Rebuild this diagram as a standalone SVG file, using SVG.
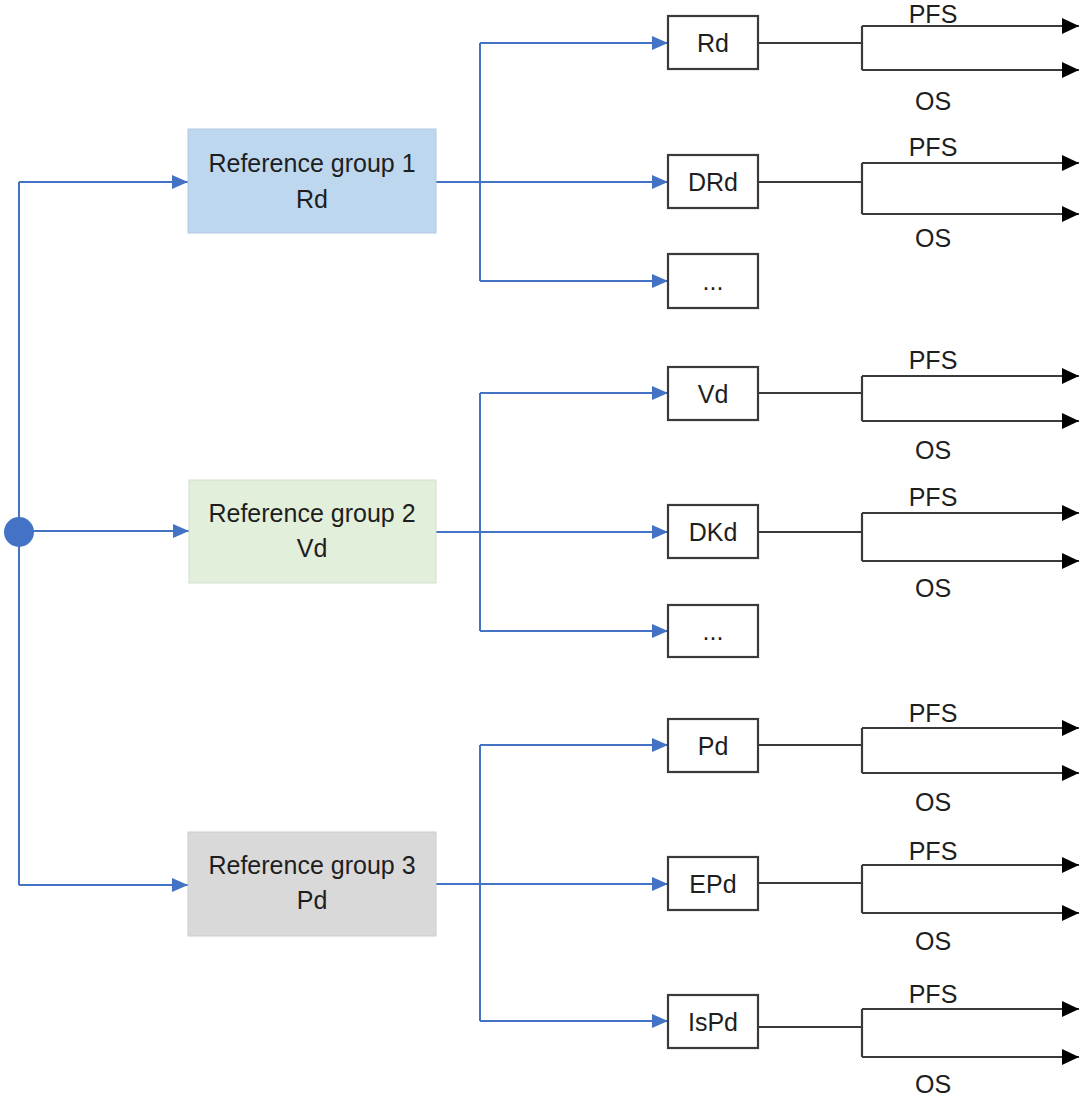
<svg xmlns="http://www.w3.org/2000/svg" width="1083" height="1100" viewBox="0 0 1083 1100">
<style>
text{font-family:"Liberation Sans",Arial,sans-serif;font-size:25px;fill:#1e1e1e;text-anchor:middle}
.b{fill:none;stroke:#4472C4;stroke-width:2}
.k{fill:none;stroke:#3a3a3a;stroke-width:2.2}
.sb{fill:#fff;stroke:#3a3a3a;stroke-width:2.2}
.g1{fill:#BDD7EE;stroke:#B4C9E0;stroke-width:1}
.g2{fill:#E2EFDA;stroke:#D3E0CC;stroke-width:1}
.g3{fill:#D9D9D9;stroke:#CCCCCC;stroke-width:1}
</style>
<defs>
<marker id="ab" markerUnits="userSpaceOnUse" markerWidth="16" markerHeight="14" refX="16" refY="7" orient="auto"><path d="M0,0 L16,7 L0,14 z" fill="#4472C4"/></marker>
<marker id="ak" markerUnits="userSpaceOnUse" markerWidth="17" markerHeight="16" refX="17" refY="8" orient="auto"><path d="M0,0 L17,8 L0,16 z" fill="#000"/></marker>
</defs>
<rect width="1083" height="1100" fill="#fff"/>
<g id="connectors">
<path class="b" d="M19,182 V885"/>
<path class="b" d="M19,182 H188" marker-end="url(#ab)"/>
<path class="b" d="M19,531 H189" marker-end="url(#ab)"/>
<path class="b" d="M19,885 H188" marker-end="url(#ab)"/>
<path class="b" d="M436,182 H668" marker-end="url(#ab)"/>
<path class="b" d="M480,43 V281"/>
<path class="b" d="M480,43 H668" marker-end="url(#ab)"/>
<path class="b" d="M480,281 H668" marker-end="url(#ab)"/>
<path class="b" d="M436,532 H668" marker-end="url(#ab)"/>
<path class="b" d="M480,393 V631"/>
<path class="b" d="M480,393 H668" marker-end="url(#ab)"/>
<path class="b" d="M480,631 H668" marker-end="url(#ab)"/>
<path class="b" d="M436,884 H668" marker-end="url(#ab)"/>
<path class="b" d="M480,745 V1021"/>
<path class="b" d="M480,745 H668" marker-end="url(#ab)"/>
<path class="b" d="M480,1021 H668" marker-end="url(#ab)"/>
<g id="outcomes">
<path class="k" d="M758,43 H862 M862,26 V70"/>
<path class="k" d="M862,26 H1079" marker-end="url(#ak)"/>
<path class="k" d="M862,70 H1079" marker-end="url(#ak)"/>
<path class="k" d="M758,182 H862 M862,163 V214"/>
<path class="k" d="M862,163 H1079" marker-end="url(#ak)"/>
<path class="k" d="M862,214 H1079" marker-end="url(#ak)"/>
<path class="k" d="M758,393 H862 M862,376 V421"/>
<path class="k" d="M862,376 H1079" marker-end="url(#ak)"/>
<path class="k" d="M862,421 H1079" marker-end="url(#ak)"/>
<path class="k" d="M758,532 H862 M862,513 V561"/>
<path class="k" d="M862,513 H1079" marker-end="url(#ak)"/>
<path class="k" d="M862,561 H1079" marker-end="url(#ak)"/>
<path class="k" d="M758,745 H862 M862,728 V773"/>
<path class="k" d="M862,728 H1079" marker-end="url(#ak)"/>
<path class="k" d="M862,773 H1079" marker-end="url(#ak)"/>
<path class="k" d="M758,883 H862 M862,865 V913"/>
<path class="k" d="M862,865 H1079" marker-end="url(#ak)"/>
<path class="k" d="M862,913 H1079" marker-end="url(#ak)"/>
<path class="k" d="M758,1027 H862 M862,1009 V1057"/>
<path class="k" d="M862,1009 H1079" marker-end="url(#ak)"/>
<path class="k" d="M862,1057 H1079" marker-end="url(#ak)"/>
</g>
<g id="outcome-labels">
<text x="933" y="23">PFS</text><text x="933" y="110">OS</text>
<text x="933" y="156">PFS</text><text x="933" y="247">OS</text>
<text x="933" y="369">PFS</text><text x="933" y="459">OS</text>
<text x="933" y="506">PFS</text><text x="933" y="597">OS</text>
<text x="933" y="722">PFS</text><text x="933" y="811">OS</text>
<text x="933" y="860">PFS</text><text x="933" y="950">OS</text>
<text x="933" y="1003">PFS</text><text x="933" y="1093">OS</text>
</g>
</g>
<g id="start"><circle cx="19" cy="532" r="15" fill="#4472C4"/></g>
<g id="group1"><rect class="g1" x="188" y="129" width="248" height="104"/><text x="312" y="172">Reference group 1</text><text x="312" y="208">Rd</text></g>
<g id="group2"><rect class="g2" x="189" y="480" width="247" height="103"/><text x="312" y="522">Reference group 2</text><text x="312" y="557">Vd</text></g>
<g id="group3"><rect class="g3" x="188" y="832" width="248" height="104"/><text x="312" y="874">Reference group 3</text><text x="312" y="909">Pd</text></g>
<g id="n-rd"><rect class="sb" x="668" y="16" width="90" height="53"/><text x="713" y="52">Rd</text></g>
<g id="n-drd"><rect class="sb" x="668" y="155" width="90" height="53"/><text x="713" y="191">DRd</text></g>
<g id="n-etc1"><rect class="sb" x="668" y="254" width="90" height="54"/><text x="713" y="290">...</text></g>
<g id="n-vd"><rect class="sb" x="668" y="367" width="90" height="53"/><text x="713" y="403">Vd</text></g>
<g id="n-dkd"><rect class="sb" x="668" y="505" width="90" height="53"/><text x="713" y="541">DKd</text></g>
<g id="n-etc2"><rect class="sb" x="668" y="605" width="90" height="52"/><text x="713" y="640">...</text></g>
<g id="n-pd"><rect class="sb" x="668" y="719" width="90" height="53"/><text x="713" y="755">Pd</text></g>
<g id="n-epd"><rect class="sb" x="668" y="857" width="90" height="53"/><text x="713" y="893">EPd</text></g>
<g id="n-ispd"><rect class="sb" x="668" y="995" width="90" height="53"/><text x="713" y="1031">IsPd</text></g>
</svg>
